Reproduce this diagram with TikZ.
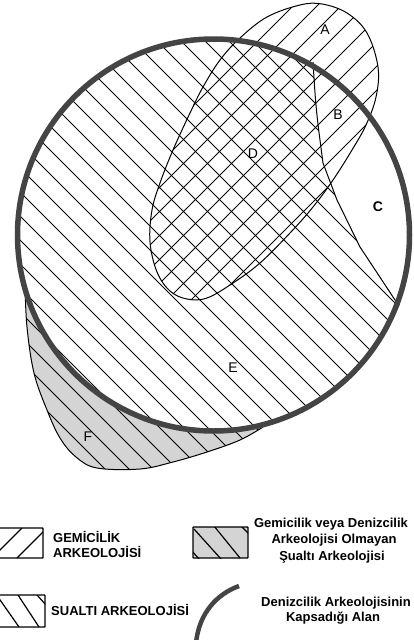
\documentclass[tikz,border=0pt]{standalone}
\usepackage{fontspec}
\setmainfont{Liberation Sans}
\definecolor{ringc}{RGB}{68,68,68}
\definecolor{fgray}{RGB}{212,212,212}
\begin{document}
\begin{tikzpicture}[x=1pt,y=-1pt,
  hatch/.style={line width=1.05pt,black},
  outl/.style={line width=1pt,black},
  ringline/.style={line width=5.5pt,ringc},
  legbox/.style={line width=1.3pt,black,rounded corners=0.6pt},
  letter/.style={font=\fontsize{14}{14}\selectfont,inner sep=0pt},
  legtxt/.style={font=\fontsize{13}{15}\selectfont\bfseries,inner sep=0pt}]
\useasboundingbox (0,0) rectangle (414,640);
\def\eggpath{plot[smooth cycle, tension=0.6] coordinates {(240,38) (267,17) (300,5) (322,4) (347,13) (367,33) (378,67) (376,97) (366,125) (352,150) (333,180) (313,207) (290,233) (260,263) (233,283) (207,298) (187,299) (170,291) (157,272) (150,242) (152,210) (160,183) (173,150) (190,113) (203,87) (220,60)}}
\def\fcurve{plot[smooth, tension=0.6] coordinates {(25,284) (27,327) (34,373) (47,410) (60,438) (76,457) (97,468) (140,469) (173,462) (207,452) (240,440) (263,427)}}
% F region
\fill[fgray] \fcurve -- (213,235) -- cycle;
\begin{scope}
  \clip \fcurve -- (213,235) -- cycle;
  \foreach \c in {-460,-436,...,420} \draw[hatch] (\c,0) -- ++(700,700);
\end{scope}
% circle interior
\fill[white] (213.5,235) circle[radius=196pt];
\begin{scope}
  \clip (213.5,235) circle[radius=196pt];
  \foreach \c in {-460,-436,...,420} \draw[hatch] (\c,0) -- ++(700,700);
  % region C
  \fill[white] (313,55) .. controls (316,110) .. (323,163) -- (337,200) -- (360,247) -- (404,312) -- (430,312) -- (430,0) -- (313,0) -- cycle;
\end{scope}
% egg hatch
\begin{scope}
  \clip \eggpath;
  \foreach \c in {11,35,...,803} \draw[hatch] (\c,0) -- ++(-700,700);
\end{scope}
% outlines
\draw[outl] \eggpath;
\coordinate (c0) at (313,62);
\coordinate (c1) at (323,163);
\coordinate (c2) at (337,200);
\coordinate (c3) at (360,247);
\coordinate (c4) at (399,306);
\draw[outl] (c0) .. controls (316,110) .. (c1) -- (c2) -- (c3) -- (c4);
\draw[outl] \fcurve;
% ring
\draw[ringline] (213.5,235) circle[radius=196pt];
% letters
\node[letter] (lA) at (325,30) {A};
\node[letter] (lB) at (338,115) {B};
\node[letter,font=\fontsize{14}{14}\selectfont\bfseries] (lC) at (378,207) {C};
\node[letter] (lD) at (253,154) {D};
\node[letter] (lE) at (233,368) {E};
\node[letter] (lF) at (88,437) {F};
% legend box 1
\draw[legbox] (-3,528) rectangle (43,558);
\begin{scope}
  \clip (-3,528) rectangle (43,558);
  \draw[line width=1.2pt] (22,528) -- (-8,558);
  \draw[line width=1.2pt] (47,528) -- (17,558);
\end{scope}
\node[legtxt,anchor=base west] (t1a) at (53,542) {GEMİCİLİK};
\node[legtxt,anchor=base west] (t1b) at (53,557) {ARKEOLOJİSİ};
% legend box 2
\draw[legbox] (-3,595) rectangle (45,627);
\begin{scope}
  \clip (-3,595) rectangle (45,627);
  \draw[line width=1.2pt] (-2,597) -- (19,627);
  \draw[line width=1.2pt] (18,595) -- (39,627);
  \draw[line width=1.2pt] (37,595) -- (46,605);
\end{scope}
\node[legtxt,anchor=base west] (t2) at (51,615) {SUALTI ARKEOLOJİSİ};
% legend box 3
\fill[fgray] (193,527) rectangle (248,558);
\begin{scope}
  \clip (193,527) rectangle (248,558);
  \draw[line width=1.2pt] (194,529) -- (221,559);
  \draw[line width=1.2pt] (214,526) -- (240,558);
  \draw[line width=1.2pt] (241,526) -- (249,534);
  \draw[line width=1.2pt] (192,551) -- (199,559);
\end{scope}
\draw[legbox] (193,527) rectangle (248,558);
\node[legtxt,anchor=base] (t3a) at (331,527) {Gemicilik veya Denizcilik};
\node[legtxt,anchor=base] (t3b) at (334,543) {Arkeolojisi Olmayan};
\node[legtxt,anchor=base] (t3c) at (332,560) {Şualtı Arkeolojisi};
% legend arc
\coordinate (a0) at (196,643);
\coordinate (a1) at (239,586);
\draw[ringline,line width=4.5pt] (a0) .. controls (199,613) and (217,594) .. (a1);
\node[legtxt,anchor=base] (t4a) at (336,606) {Denizcilik Arkeolojisinin};
\node[legtxt,anchor=base] (t4b) at (333,621) {Kapsadığı Alan};
\end{tikzpicture}
\end{document}
